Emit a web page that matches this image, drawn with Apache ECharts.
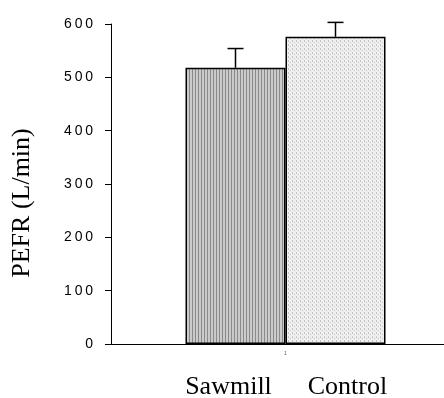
<!DOCTYPE html>
<html><head><meta charset="utf-8">
<script src="https://cdn.jsdelivr.net/npm/echarts@6/dist/echarts.min.js"></script>
<style>html,body{margin:0;padding:0;background:#fff;overflow:hidden;width:444px;height:398px}#c{width:460px;height:398px}</style>
</head><body><div id="c"></div>
<script>
var groups = ['Sawmill', 'Control'];
var means = [518, 576];
var errors = [36, 27];
var categories = ['1'];
var yTicks = [0, 100, 200, 300, 400, 500, 600];
var yTitle = 'PEFR (L/min)';

function stripePattern() {
  var c = document.createElement('canvas'); c.width = 3; c.height = 3;
  var g = c.getContext('2d');
  g.fillStyle = '#cacaca'; g.fillRect(0, 0, 3, 3);
  g.fillStyle = '#8a8a8a'; g.fillRect(0, 0, 1, 3);
  return c;
}
function dotPattern() {
  var c = document.createElement('canvas'); c.width = 4; c.height = 4;
  var g = c.getContext('2d');
  g.fillStyle = '#efefef'; g.fillRect(0, 0, 4, 4);
  g.fillStyle = '#c4c4c4';
  g.fillRect(0, 0, 1, 1); g.fillRect(2, 2, 1, 1); g.fillRect(0, 1, 1, 1);
  return c;
}
var patterns = [stripePattern(), dotPattern()];
var labelShift = [-7, 12];
var BAR_W = 100;
var chart = echarts.init(document.getElementById('c'));
var series = [];
groups.forEach(function (name, i) {
  series.push({
    type: 'bar', name: name, data: [means[i]], barWidth: BAR_W, barGap: '0%',
    itemStyle: { color: { image: patterns[i], repeat: 'repeat' }, borderColor: '#000', borderWidth: 1.5 },
    label: { show: true, position: 'bottom', distance: 30, offset: [labelShift[i], 0], formatter: name,
      fontFamily: 'Liberation Serif', fontSize: 26, color: '#000' },
    z: 2
  });
});
groups.forEach(function (name, i) {
  series.push({
    type: 'custom', name: name + ' err', data: [[0, means[i], means[i] + errors[i]]], z: 1,
    renderItem: function (params, api) {
      var off = (i === 0 ? -0.5 : 0.5) * BAR_W;
      var lo = api.coord([api.value(0), api.value(1)]);
      var hi = api.coord([api.value(0), api.value(2)]);
      var x = lo[0] + off;
      return { type: 'group', children: [
        { type: 'line', shape: { x1: x, y1: lo[1], x2: x, y2: hi[1] }, style: { stroke: '#000', lineWidth: 1.5 } },
        { type: 'line', shape: { x1: x - 8, y1: hi[1], x2: x + 8, y2: hi[1] }, style: { stroke: '#000', lineWidth: 1.5 } }
      ] };
    }
  });
});
chart.setOption({
  animation: false,
  grid: { left: 111, right: 0, top: 24, bottom: 54 },
  graphic: [{
    type: 'text', x: 22, y: 203, rotation: Math.PI / 2,
    style: { text: yTitle, fontFamily: 'Liberation Serif', fontSize: 26, fill: '#000',
      textAlign: 'center', textVerticalAlign: 'middle' }
  }],
  xAxis: {
    type: 'category', data: categories,
    axisLine: { lineStyle: { color: '#000', width: 1 } },
    axisTick: { show: false },
    axisLabel: { fontSize: 5, color: '#555', margin: 7 }
  },
  yAxis: {
    type: 'value', min: 0, max: 600, interval: 100,
    axisLine: { show: true, lineStyle: { color: '#000', width: 1 } },
    axisTick: { show: true, inside: false, length: 6, lineStyle: { color: '#000' } },
    axisLabel: { fontFamily: 'Liberation Sans', fontSize: 14, color: '#000', margin: 18,
      formatter: function (v) { return yTicks.indexOf(v) >= 0 ? String(v).split('').join('\u2009') : ''; } },
    splitLine: { show: false }
  },
  series: series
});
</script></body></html>
